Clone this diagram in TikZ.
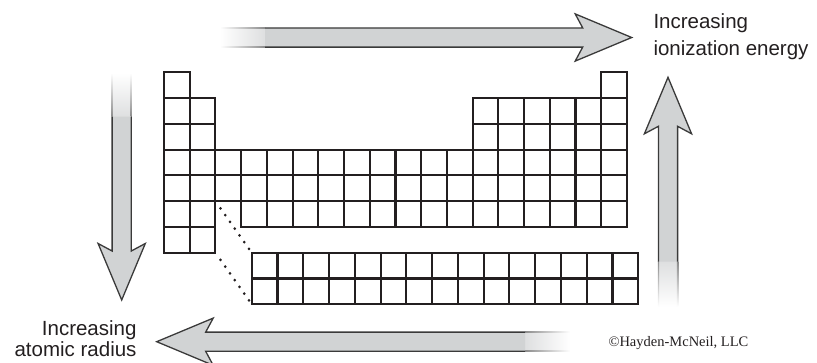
\documentclass[tikz,border=0pt]{standalone}
\usepackage{fontspec}
\setmainfont{Liberation Sans}
\newfontfamily\crfont{Liberation Serif}
\definecolor{arrowfill}{HTML}{D1D3D4}
\definecolor{fadefill}{HTML}{DEDFE0}
\definecolor{arrowedge}{HTML}{3A3A3A}
\definecolor{fadeedge}{HTML}{8C8C8C}
\definecolor{gridline}{HTML}{231F20}
\definecolor{textcol}{HTML}{231F20}
\begin{document}
\begin{tikzpicture}[x=1pt,y=-1pt,
  arrowbody/.style={fill=arrowfill, draw=arrowedge, line width=1.3pt, line join=miter, miter limit=10},
  cellbox/.style={draw=gridline, line width=2.1pt},
  dotline/.style={draw=gridline, line width=2.9pt, line cap=round, dash pattern=on 0pt off 8.25pt, shorten <=8.8pt, shorten >=4.5pt},
  biglabel/.style={text=textcol, inner sep=0pt, font=\fontsize{20.5}{26.7}\selectfont},
  ]
\useasboundingbox (0,0) rectangle (817,362);

% ---- periodic table grid ----
\foreach \r/\cols in {1/{1,18}, 2/{1,2,13,14,15,16,17,18}, 3/{1,2,13,14,15,16,17,18}, 4/{1,...,18}, 5/{1,...,18}, 6/{1,2,4,5,...,18}, 7/{1,2}}{
  \foreach \c in \cols {
    \draw[cellbox] ({164+(\c-1)*25.72},{72.3+(\r-1)*25.77}) rectangle +(25.72,25.77);
  }
}
% f-block
\foreach \r in {1,2}{
  \foreach \k in {1,...,15}{
    \draw[cellbox] ({251.7+(\k-1)*25.77},{252.7+(\r-1)*25.77}) rectangle +(25.77,25.77);
  }
}
\coordinate (gapTop) at (215.44,201.15);
\coordinate (gapBot) at (215.44,252.69);
\coordinate (fTop) at (251.7,252.7);
\coordinate (fBot) at (251.7,304.24);
\draw[dotline] (gapTop) -- (fTop);
\draw[dotline] (gapBot) -- (fBot);

% ---- top arrow (east) ----
\shade[left color=white, right color=fadefill] (220,27.9) rectangle (265,47.1);
\shade[left color=white, right color=fadeedge] (220,27.25) rectangle (265,28.55);
\shade[left color=white, right color=fadeedge] (220,46.45) rectangle (265,47.75);
\filldraw[arrowbody] (265,27.9) -- (582.7,27.9) -- (575.2,13.9) -- (631.7,37.5) -- (575.2,61.1) -- (582.7,47.1) -- (265,47.1);

% ---- left arrow (south) ----
\shade[top color=white, bottom color=fadefill] (112.1,73) rectangle (131.3,116.7);
\shade[top color=white, bottom color=fadeedge] (111.45,73) rectangle (112.75,116.7);
\shade[top color=white, bottom color=fadeedge] (130.65,73) rectangle (131.95,116.7);
\filldraw[arrowbody] (112.1,116.7) -- (112.1,251) -- (98.1,243.5) -- (121.7,300) -- (145.3,243.5) -- (131.3,251) -- (131.3,116.7);

% ---- bottom arrow (west) ----
\shade[left color=fadefill, right color=white] (525,332.1) rectangle (570,351.3);
\shade[left color=fadeedge, right color=white] (525,331.45) rectangle (570,332.75);
\shade[left color=fadeedge, right color=white] (525,350.65) rectangle (570,351.95);
\filldraw[arrowbody] (525,332.1) -- (205.7,332.1) -- (213.2,318.1) -- (156.7,341.7) -- (213.2,365.3) -- (205.7,351.3) -- (525,351.3);

% ---- right arrow (north) ----
\shade[top color=fadefill, bottom color=white] (658.4,261.7) rectangle (677.6,306.7);
\shade[top color=fadeedge, bottom color=white] (657.75,261.7) rectangle (659.05,306.7);
\shade[top color=fadeedge, bottom color=white] (676.95,261.7) rectangle (678.25,306.7);
\filldraw[arrowbody] (658.4,261.7) -- (658.4,126.3) -- (644.4,133.8) -- (668,77.3) -- (691.6,133.8) -- (677.6,126.3) -- (677.6,261.7);

% ---- labels (anchor at baseline of last line) ----
\node[biglabel, align=left, anchor=base west] (ion) at (653.3,55) {Increasing\\ionization energy};
\node[biglabel, align=right, anchor=base east, font=\fontsize{20.5}{21}\selectfont] (rad) at (136.7,356) {Increasing\\atomic radius};
\node[text=textcol, inner sep=0pt, anchor=base west, font=\crfont\fontsize{14.5}{16}\selectfont] (copy) at (608.3,346.7) {©Hayden-McNeil, LLC};
\end{tikzpicture}
\end{document}
